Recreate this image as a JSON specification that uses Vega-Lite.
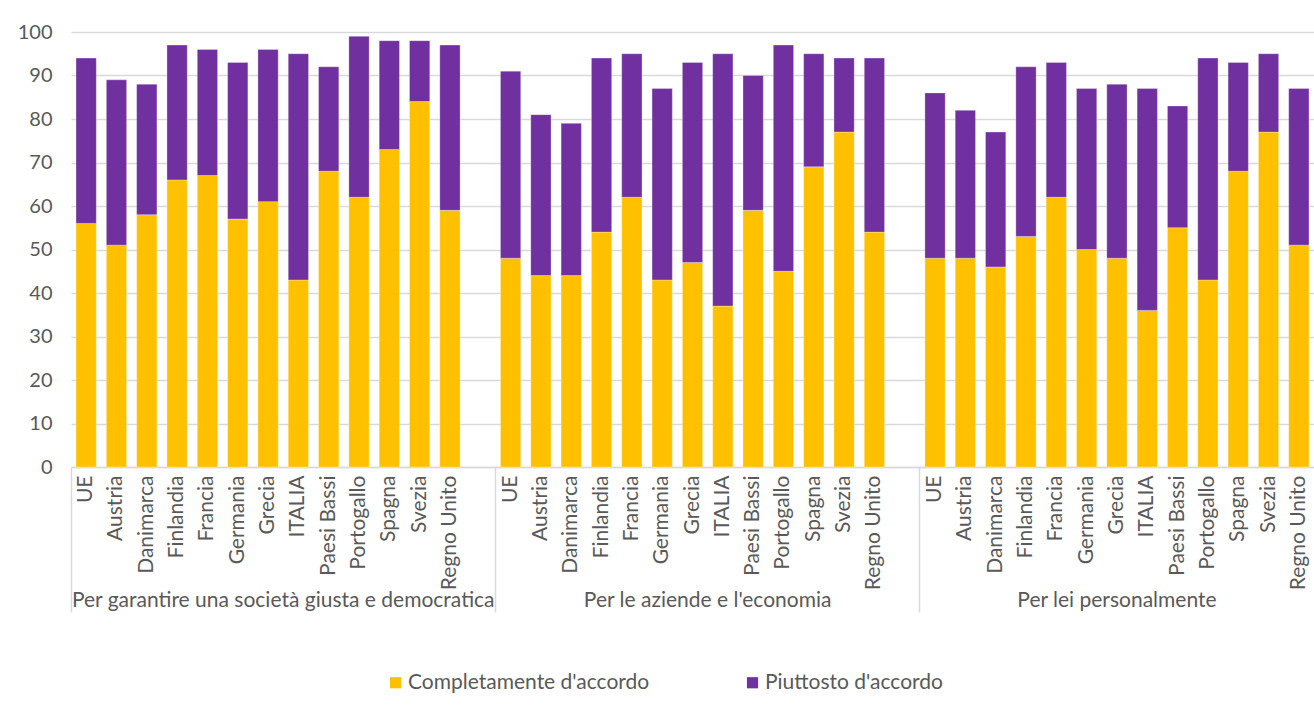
{
  "$schema": "https://vega.github.io/schema/vega-lite/v6.json",
  "autosize": {"type": "none"},
  "width": 1243,
  "height": 435,
  "padding": {"left": 71, "top": 32, "right": 0, "bottom": 238},
  "background": "#ffffff",
  "config": {"view": {"stroke": null}, "font": "Lato"},
  "data": {"values": [
    {"k": "1|UE", "Completamente": 56, "Piuttosto": 38},
    {"k": "1|Austria", "Completamente": 51, "Piuttosto": 38},
    {"k": "1|Danimarca", "Completamente": 58, "Piuttosto": 30},
    {"k": "1|Finlandia", "Completamente": 66, "Piuttosto": 31},
    {"k": "1|Francia", "Completamente": 67, "Piuttosto": 29},
    {"k": "1|Germania", "Completamente": 57, "Piuttosto": 36},
    {"k": "1|Grecia", "Completamente": 61, "Piuttosto": 35},
    {"k": "1|ITALIA", "Completamente": 43, "Piuttosto": 52},
    {"k": "1|Paesi Bassi", "Completamente": 68, "Piuttosto": 24},
    {"k": "1|Portogallo", "Completamente": 62, "Piuttosto": 37},
    {"k": "1|Spagna", "Completamente": 73, "Piuttosto": 25},
    {"k": "1|Svezia", "Completamente": 84, "Piuttosto": 14},
    {"k": "1|Regno Unito", "Completamente": 59, "Piuttosto": 38},
    {"k": "2|UE", "Completamente": 48, "Piuttosto": 43},
    {"k": "2|Austria", "Completamente": 44, "Piuttosto": 37},
    {"k": "2|Danimarca", "Completamente": 44, "Piuttosto": 35},
    {"k": "2|Finlandia", "Completamente": 54, "Piuttosto": 40},
    {"k": "2|Francia", "Completamente": 62, "Piuttosto": 33},
    {"k": "2|Germania", "Completamente": 43, "Piuttosto": 44},
    {"k": "2|Grecia", "Completamente": 47, "Piuttosto": 46},
    {"k": "2|ITALIA", "Completamente": 37, "Piuttosto": 58},
    {"k": "2|Paesi Bassi", "Completamente": 59, "Piuttosto": 31},
    {"k": "2|Portogallo", "Completamente": 45, "Piuttosto": 52},
    {"k": "2|Spagna", "Completamente": 69, "Piuttosto": 26},
    {"k": "2|Svezia", "Completamente": 77, "Piuttosto": 17},
    {"k": "2|Regno Unito", "Completamente": 54, "Piuttosto": 40},
    {"k": "3|UE", "Completamente": 48, "Piuttosto": 38},
    {"k": "3|Austria", "Completamente": 48, "Piuttosto": 34},
    {"k": "3|Danimarca", "Completamente": 46, "Piuttosto": 31},
    {"k": "3|Finlandia", "Completamente": 53, "Piuttosto": 39},
    {"k": "3|Francia", "Completamente": 62, "Piuttosto": 31},
    {"k": "3|Germania", "Completamente": 50, "Piuttosto": 37},
    {"k": "3|Grecia", "Completamente": 48, "Piuttosto": 40},
    {"k": "3|ITALIA", "Completamente": 36, "Piuttosto": 51},
    {"k": "3|Paesi Bassi", "Completamente": 55, "Piuttosto": 28},
    {"k": "3|Portogallo", "Completamente": 43, "Piuttosto": 51},
    {"k": "3|Spagna", "Completamente": 68, "Piuttosto": 25},
    {"k": "3|Svezia", "Completamente": 77, "Piuttosto": 18},
    {"k": "3|Regno Unito", "Completamente": 51, "Piuttosto": 36}
  ]},
  "transform": [{"fold": ["Completamente", "Piuttosto"], "as": ["serie", "val"]}],
  "layer": [
    {
      "mark": {"type": "bar", "stroke": "#ffffff", "strokeWidth": 0.6, "strokeOpacity": 0.5},
      "encoding": {
        "x": {
          "field": "k", "type": "nominal",
          "scale": {
            "domain": ["1|UE","1|Austria","1|Danimarca","1|Finlandia","1|Francia","1|Germania","1|Grecia","1|ITALIA","1|Paesi Bassi","1|Portogallo","1|Spagna","1|Svezia","1|Regno Unito","1|",
                       "2|UE","2|Austria","2|Danimarca","2|Finlandia","2|Francia","2|Germania","2|Grecia","2|ITALIA","2|Paesi Bassi","2|Portogallo","2|Spagna","2|Svezia","2|Regno Unito","2|",
                       "3|UE","3|Austria","3|Danimarca","3|Finlandia","3|Francia","3|Germania","3|Grecia","3|ITALIA","3|Paesi Bassi","3|Portogallo","3|Spagna","3|Svezia","3|Regno Unito"],
            "paddingInner": 0.331, "paddingOuter": 0.1655
          },
          "axis": {
            "orient": "bottom",
            "title": null,
            "labelExpr": "split(datum.value, '|')[1]",
            "labelAngle": -90, "labelAlign": "right", "labelBaseline": "middle",
            "labelPadding": 8, "ticks": false, "grid": false,
            "domain": true, "domainColor": "#d9d9d9", "domainWidth": 1.5,
            "labelFontSize": 21, "labelColor": "#595959", "labelOverlap": false
          }
        },
        "y": {
          "field": "val", "type": "quantitative", "stack": "zero",
          "scale": {"domain": [0, 100], "nice": false},
          "axis": {
            "title": null, "values": [0,10,20,30,40,50,60,70,80,90,100],
            "grid": true, "gridColor": "#d9d9d9", "gridWidth": 1.5,
            "domain": false, "ticks": false, "labelPadding": 19,
            "labelFontSize": 20, "labelColor": "#595959"
          }
        },
        "color": {
          "field": "serie", "type": "nominal",
          "scale": {"domain": ["Completamente", "Piuttosto"], "range": ["#FFC000", "#7030A0"]},
          "legend": {
            "orient": "none", "legendX": 314, "legendY": 640, "direction": "horizontal",
            "title": null, "symbolType": "square", "symbolSize": 125, "symbolStrokeWidth": 0,
            "labelFontSize": 21, "labelColor": "#595959", "columnPadding": 87, "labelOffset": 2,
            "labelLimit": 0,
            "labelExpr": "datum.value == 'Completamente' ? \"Completamente  d'accordo\" : \"Piuttosto  d'accordo\""
          }
        },
        "order": {"field": "serie", "sort": "ascending"}
      }
    },
    {
      "mark": {"type": "point", "opacity": 0},
      "encoding": {
        "x": {
          "field": "k", "type": "nominal",
          "axis": {
            "orient": "bottom",
            "title": null, "values": ["1|ITALIA", "2|ITALIA", "3|Grecia"],
            "labelOffset": {"condition": {"test": "datum.value == '3|Grecia'", "value": 0}, "value": -15.16},
            "labelExpr": "split(datum.value, '|')[0] == '1' ? 'Per garantire una società giusta e democratica' : split(datum.value, '|')[0] == '2' ? \"Per le aziende e l'economia\" : 'Per lei personalmente'",
            "labelAngle": 0, "labelAlign": "center", "labelBaseline": "middle",
            "ticks": false, "domain": false, "grid": false, "labelPadding": 133,
            "labelFontSize": 21, "labelColor": "#595959", "labelLimit": 0, "labelOverlap": false
          }
        }
      }
    },
    {
      "mark": {"type": "point", "opacity": 0},
      "encoding": {
        "x": {
          "field": "k", "type": "nominal",
          "axis": {
            "orient": "bottom",
            "title": null, "values": ["1|UE", "2|UE", "3|UE"], "bandPosition": -0.247,
            "labels": false, "ticks": true, "tickSize": 145, "tickColor": "#d9d9d9", "tickWidth": 1.5,
            "domain": false, "grid": false
          }
        }
      }
    }
  ],
  "resolve": {"axis": {"x": "independent"}}
}
